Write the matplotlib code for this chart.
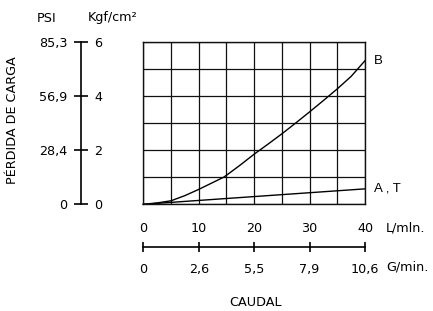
import matplotlib
matplotlib.use("Agg")
import matplotlib.pyplot as plt
import numpy as np

# Data (flow in L/min, pressure loss in kgf/cm²)
flow_b = [0, 2.5, 5, 7.5, 10, 12.5, 14.5, 15, 17.5, 20, 22.5, 25, 27.5, 30, 32.5, 35, 37.5, 40]
loss_b = [0, 0.05, 0.13, 0.32, 0.55, 0.80, 1.0, 1.07, 1.45, 1.85, 2.22, 2.60, 3.0, 3.41, 3.83, 4.26, 4.72, 5.30]
flow_at = [0, 40]
loss_at = [0, 0.57]

kgf_ticks = [0, 2, 4, 6]
kgf_labels = ["0", "2", "4", "6"]
psi_labels = ["0", "28,4", "56,9", "85,3"]
lmin_ticks = [0, 10, 20, 30, 40]
lmin_labels = ["0", "10", "20", "30", "40"]
gmin_labels = ["0", "2,6", "5,5", "7,9", "10,6"]

W, H = 433, 311
DPI = 100
FS = 9.2
plt.rcParams['font.family'] = ['DejaVu Sans']

fig = plt.figure(figsize=(W / DPI, H / DPI), dpi=DPI)

def fx(px):
    return px / W

def fy(py):  # py measured from top
    return 1 - py / H

top_px, bot_px = 41.7, 204.3
left_px, right_px = 143.3, 365.0
ax_bottom = fy(bot_px)
ax_height = (bot_px - top_px) / H

# Main grid axes
ax = fig.add_axes([fx(left_px), ax_bottom, (right_px - left_px) / W, ax_height])
ax.set_xlim(0, 40)
ax.set_ylim(0, 6)
ax.set_xticks(np.arange(0, 41, 5))
ax.set_yticks(np.arange(0, 7, 1))
ax.tick_params(length=0, labelbottom=False, labelleft=False)
ax.grid(True, color='#111111', lw=0.9)
for s in ax.spines.values():
    s.set_color('#111111')
    s.set_linewidth(1.0)
ax.plot(flow_b, loss_b, color='black', lw=1.0, clip_on=False)
ax.plot(flow_at, loss_at, color='black', lw=1.0, clip_on=False)
ax.annotate("B", xy=(40, 5.30), xytext=(6.5, 0), textcoords='offset points',
            family='Liberation Sans', fontsize=9.5, va='center', ha='left')
ax.annotate("A , T", xy=(40, 0.57), xytext=(6.5, 0), textcoords='offset points',
            family='Liberation Sans', fontsize=9.5, va='center', ha='left')

# Left pressure axis
axl = fig.add_axes([fx(81), ax_bottom, 0.0001, ax_height])
axl.set_ylim(0, 6)
axl.set_xticks([])
for k in ['top', 'right', 'bottom']:
    axl.spines[k].set_visible(False)
axl.spines['left'].set_linewidth(1.2)
axl.set_yticks(kgf_ticks)
axl.set_yticklabels(psi_labels, fontsize=FS)
axl.tick_params(axis='y', direction='inout', length=9.8, width=1.2, pad=5.0)
axr = axl.twinx()
axr.set_ylim(0, 6)
for k in axr.spines:
    axr.spines[k].set_visible(False)
axr.set_yticks(kgf_ticks)
axr.set_yticklabels(kgf_labels, fontsize=FS)
axr.tick_params(axis='y', length=0, pad=9.5)

fig.text(fx(47), fy(18), "PSI", fontsize=FS, ha='center', va='center')
fig.text(fx(113), fy(18), "Kgf/cm²", fontsize=FS, ha='center', va='center')
fig.text(fx(13), fy(120), "PÉRDIDA DE CARGA", fontsize=FS, ha='center', va='center', rotation=90)

# Bottom flow axis
axb = fig.add_axes([fx(left_px), fy(246.7), (right_px - left_px) / W, 0.0001])
axb.set_xlim(0, 40)
axb.set_yticks([])
for k in ['top', 'right', 'left']:
    axb.spines[k].set_visible(False)
axb.spines['bottom'].set_linewidth(1.2)
axb.set_xticks(lmin_ticks)
axb.set_xticklabels(gmin_labels, fontsize=FS)
axb.tick_params(axis='x', direction='inout', length=7.5, width=1.2, pad=8)
axt = axb.twiny()
axt.set_xlim(0, 40)
for k in axt.spines:
    axt.spines[k].set_visible(False)
axt.set_xticks(lmin_ticks)
axt.set_xticklabels(lmin_labels, fontsize=FS)
axt.tick_params(axis='x', length=0, pad=8.5)

fig.text(fx(386), fy(228), "L/mln.", fontsize=FS, ha='left', va='center')
fig.text(fx(386), fy(267), "G/min.", fontsize=FS, ha='left', va='center')
fig.text(fx(255), fy(302), "CAUDAL", fontsize=FS, ha='center', va='center')

fig.savefig("out.png", dpi=DPI, facecolor='white')
